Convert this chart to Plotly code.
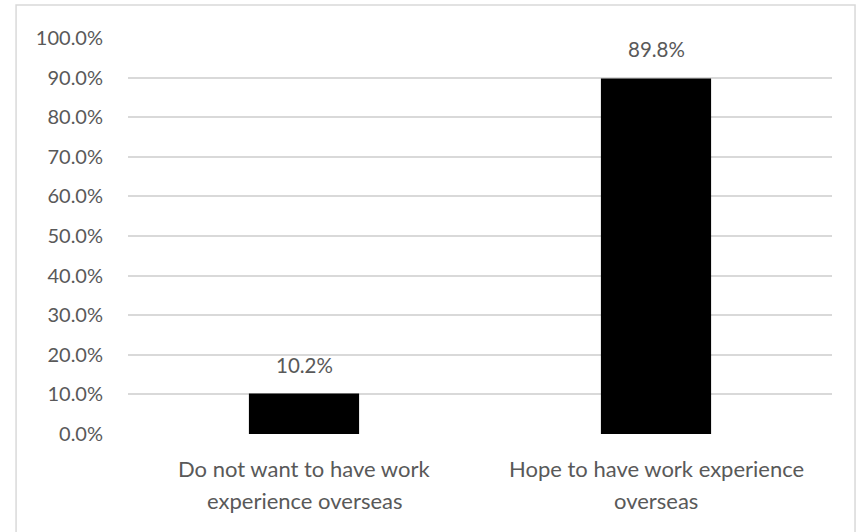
import plotly.graph_objects as go

# Survey responses on working abroad
categories = ["Do not want to have work experience overseas",
              "Hope to have work experience overseas"]
category_lines = [["Do not want to have work", "experience overseas"],
                  ["Hope to have work experience", "overseas"]]
shares = [10.2, 89.8]
tick_values = [0, 10, 20, 30, 40, 50, 60, 70, 80, 90, 100]
tick_labels = [f"{v:.1f}%" for v in tick_values]
value_labels = [f"{v:.1f}%" for v in shares]

font_family = "Lato, 'Open Sans', sans-serif"
text_color = "#595959"

fig = go.Figure(
    go.Bar(
        x=categories,
        y=shares,
        marker=dict(color="black", line=dict(width=0)),
        width=0.313,
        hoverinfo="skip",
    )
)

# Value labels above each bar
for cat, val, lab in zip(categories, shares, value_labels):
    fig.add_annotation(
        x=cat, y=val, text=lab, showarrow=False,
        yanchor="bottom", yshift=15,
        font=dict(family=font_family, size=20.5, color=text_color),
    )

# Two-line category labels under the axis, with roomy line spacing
for cat, lines in zip(categories, category_lines):
    for i, line in enumerate(lines):
        fig.add_annotation(
            x=cat, xref="x", y=0, yref="paper", text=line, showarrow=False,
            yanchor="middle", yshift=-34 - 32 * i,
            font=dict(family=font_family, size=22, color=text_color),
        )

# Light frame around the whole chart
fig.add_shape(
    type="rect", xref="paper", yref="paper",
    x0=-0.159, x1=1.0327, y0=-0.35, y1=1.0833,
    line=dict(color="#d9d9d9", width=1.5), fillcolor="rgba(0,0,0,0)",
    layer="below",
)

fig.update_layout(
    width=859, height=532,
    margin=dict(l=128, r=27, t=38, b=98),
    paper_bgcolor="white", plot_bgcolor="white",
    showlegend=False,
    font=dict(family=font_family, size=20, color=text_color),
    bargap=0.687,
    xaxis=dict(
        showgrid=False, showline=False, zeroline=False,
        showticklabels=False,
    ),
    yaxis=dict(
        range=[0, 100],
        tickvals=tick_values, ticktext=tick_labels,
        showgrid=True, gridcolor="#d9d9d9", gridwidth=1.5,
        zeroline=False, showline=False,
        ticks="outside", ticklen=20, tickcolor="rgba(0,0,0,0)",
        tickfont=dict(size=20, color=text_color),
    ),
)

fig.write_html("out.html")
